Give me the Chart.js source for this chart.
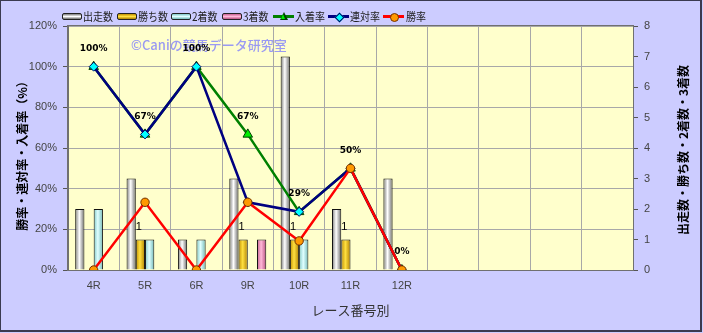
<!DOCTYPE html>
<html><head><meta charset="utf-8">
<script src="https://cdn.jsdelivr.net/npm/chart.js@4"></script>
<style>
html,body{margin:0;padding:0;background:#fff;}
#wrap{position:relative;width:703px;height:333px;background:#CCCCFF;overflow:hidden;}
#c{position:absolute;left:0;top:0;}
#frame{position:absolute;left:0;top:0;width:702px;height:332px;box-sizing:border-box;border:1px solid #3a3a50;border-right-width:2px;border-bottom-width:2px;pointer-events:none;}
.lg{position:absolute;top:10px;height:12px;font:10px "Noto Sans CJK JP",sans-serif;color:#222;line-height:12px;white-space:nowrap;transform:scale(1,1.15);transform-origin:0 50%;}
.box{position:absolute;top:13px;width:18px;height:5px;border:1px solid #222;border-radius:2px;}
.ln{position:absolute;top:15px;width:21px;height:3px;}
.mk{position:absolute;}
</style></head>
<body>
<div id="wrap">
<canvas id="c" width="703" height="333"></canvas>
<div id="legend"></div>
<div id="frame"></div>
</div>
<script>
const categories = ['4R','5R','6R','9R','10R','11R','12R','','','',''];
const starts   = [2,3,1,3,7,2,3];
const wins     = [0,1,0,1,1,1,0];
const seconds  = [2,1,1,0,1,0,0];
const thirds   = [0,0,0,1,0,0,0];
const placeRate  = [100,66.7,100,66.7,28.6,50,0];
const rentaiRate = [100,66.7,100,33.3,28.6,50,0];
const winRate    = [0,33.3,0,33.3,14.3,50,0];
const leftTicks  = [0,20,40,60,80,100,120];
const rightTicks = [0,1,2,3,4,5,6,7,8];
const legendNames = ['出走数','勝ち数','2着数','3着数','入着率','連対率','勝率'];

const CAT_PCT = 0.72, BAR_PCT = 1.0;
const barCols = [
  ['#7a7a7a','#ffffff','#6a6a6a'],
  ['#c08f00','#ffe040','#b08000'],
  ['#80c8c8','#e0ffff','#70b8b8'],
  ['#c86090','#ffb8d8','#b85080']
];
function barFill(k){
  return function(ctx){
    const chart = ctx.chart, xs = chart.scales && chart.scales.x;
    const c = barCols[k];
    if(!xs || !isFinite(xs.width) || ctx.dataIndex === undefined) return c[1];
    const center = xs.getPixelForValue(ctx.dataIndex);
    const catW = xs.width / categories.length;
    const grp = catW * CAT_PCT, bw = grp / 4;
    const left = center - grp/2 + bw*k;
    const g = chart.ctx.createLinearGradient(left,0,left+bw,0);
    g.addColorStop(0,c[0]); g.addColorStop(0.45,c[1]); g.addColorStop(1,c[2]);
    return g;
  };
}
function mkBar(label,data,k){
  return {type:'bar',label,data,yAxisID:'y1',backgroundColor:barFill(k),
    borderColor:'#111',borderWidth:(c)=>c.raw? 1:0,borderSkipped:'start',
    categoryPercentage:CAT_PCT,barPercentage:BAR_PCT,order:10+k};
}

const bgPlugin = {
  id:'bg',
  beforeDraw(chart){
    const {ctx,chartArea:a} = chart;
    ctx.save(); ctx.fillStyle='#FFFFCC';
    ctx.fillRect(a.left,a.top,a.right-a.left,a.bottom-a.top);
    ctx.restore();
  },
  beforeDatasetsDraw(chart){
    const ctx = chart.ctx;
    ctx.save();
    ctx.font = '500 13px "Noto Sans CJK JP",sans-serif';
    ctx.fillStyle = '#9a9af2';
    ctx.textBaseline='middle'; ctx.textAlign='left';
    ctx.fillText('©Caniの競馬データ研究室',131,45);
    ctx.restore();
  },
  afterDatasetsDraw(chart){
    const ctx = chart.ctx;
    ctx.save();
    const meta = chart.getDatasetMeta(4);
    ctx.font = 'bold 9px "DejaVu Sans",sans-serif';
    ctx.fillStyle='#000'; ctx.textAlign='center'; ctx.textBaseline='middle';
    meta.data.forEach((p,i)=>{
      const v = placeRate[i]; if(v===null||v===undefined) return;
      ctx.fillText(Math.round(v)+'%', p.x, p.y-18);
    });
    const bm = chart.getDatasetMeta(1);
    ctx.font = '11px "Liberation Sans",sans-serif';
    bm.data.forEach((b,i)=>{
      const v = wins[i]; if(!v) return;
      ctx.fillText(String(v), b.x-1.5, b.y-13);
    });
    ctx.restore();
  },
  afterDraw(chart){
    const {ctx,chartArea:a} = chart;
    ctx.save();
    ctx.strokeStyle='#707070'; ctx.lineWidth=1;
    ctx.strokeRect(a.left-0.5,a.top-0.5,a.right-a.left+1,a.bottom-a.top+1);
    ctx.fillStyle='#000';
    ctx.font='bold 12px "Noto Sans CJK JP",sans-serif';
    ctx.textAlign='center'; ctx.textBaseline='middle';
    ctx.save(); ctx.translate(22,153); ctx.rotate(-Math.PI/2);
    ctx.fillText('勝率・連対率・入着率（%）',0,0); ctx.restore();
    ctx.save(); ctx.translate(683,150); ctx.rotate(-Math.PI/2);
    ctx.fillText('出走数・勝ち数・2着数・3着数',0,0); ctx.restore();
    ctx.font='13px "Noto Sans CJK JP",sans-serif'; ctx.fillStyle='#333';
    ctx.fillText('レース番号別',(a.left+a.right)/2,310);
    ctx.restore();
  }
};

const tickFont = {family:'"Liberation Sans",sans-serif',size:11};
new Chart(document.getElementById('c'),{
  data:{
    labels:categories,
    datasets:[
      mkBar(legendNames[0],starts,0),
      mkBar(legendNames[1],wins,1),
      mkBar(legendNames[2],seconds,2),
      mkBar(legendNames[3],thirds,3),
      {type:'line',label:legendNames[4],data:placeRate,yAxisID:'y',borderColor:'#008000',borderWidth:2.5,
        pointStyle:'triangle',pointRadius:5.5,pointBackgroundColor:'#00ee00',pointBorderColor:'#004000',pointBorderWidth:1,order:3,tension:0},
      {type:'line',label:legendNames[5],data:rentaiRate,yAxisID:'y',borderColor:'#000080',borderWidth:2.5,
        pointStyle:'rectRot',pointRadius:4.5,pointBackgroundColor:'#00ffff',pointBorderColor:'#000060',pointBorderWidth:1,order:2,tension:0},
      {type:'line',label:legendNames[6],data:winRate,yAxisID:'y',borderColor:'#ff0000',borderWidth:2.5,
        pointStyle:'circle',pointRadius:4.2,pointBackgroundColor:'#ff9900',pointBorderColor:'#703000',pointBorderWidth:1,order:1,tension:0}
    ]
  },
  options:{
    responsive:false,animation:false,devicePixelRatio:1,
    layout:{padding:{top:26,left:0,right:0,bottom:0}},
    plugins:{legend:{display:false},tooltip:{enabled:false}},
    scales:{
      x:{offset:true,
        grid:{display:true,offset:true,color:'#a8a8a8',borderDash:[1,2],drawTicks:false,lineWidth:1},
        border:{display:false},
        ticks:{font:tickFont,color:'#444',padding:9,maxRotation:0,autoSkip:false},
        afterFit(s){s.height=63;}
      },
      y:{position:'left',min:0,max:120,
        afterBuildTicks(s){s.ticks=leftTicks.map(v=>({value:v}));},
        ticks:{font:tickFont,color:'#444',padding:6,callback:v=>v+'%'},
        grid:{color:'#a8a8a8',borderDash:[1,2],tickLength:5,tickColor:'#555',tickBorderDash:[],tickWidth:1},
        border:{display:true,color:'#707070'},
        afterFit(s){s.width=68;}
      },
      y1:{position:'right',min:0,max:8,
        afterBuildTicks(s){s.ticks=rightTicks.map(v=>({value:v}));},
        ticks:{font:tickFont,color:'#444',padding:6},
        grid:{drawOnChartArea:false,tickLength:5,tickColor:'#555'},
        border:{display:true,color:'#707070'},
        afterFit(s){s.width=70;}
      }
    }
  },
  plugins:[bgPlugin]
});

const lg = document.getElementById('legend');
const items = [
  {t:'box',x:62,tx:83,c:0},{t:'box',x:117,tx:138,c:1},{t:'box',x:171,tx:192,c:2},{t:'box',x:222,tx:243,c:3},
  {t:'ln',x:273,tx:295,col:'#008000',m:'tri'},{t:'ln',x:328,tx:350,col:'#000080',m:'dia'},{t:'ln',x:383,tx:406,col:'#ff0000',m:'cir'}
];
items.forEach((it,i)=>{
  if(it.t==='box'){
    const b=document.createElement('div'); b.className='box'; b.style.left=it.x+'px';
    const c=barCols[it.c];
    b.style.background='linear-gradient(to bottom,'+c[0]+','+c[1]+' 50%,'+c[2]+')';
    lg.appendChild(b);
  } else {
    const l=document.createElement('div'); l.className='ln'; l.style.left=it.x+'px'; l.style.background=it.col;
    lg.appendChild(l);
    const m=document.createElement('div'); m.className='mk';
    const cx=it.x+10.5, cy=16.5;
    if(it.m==='tri'){
      m.style.cssText='position:absolute;left:'+(cx-4)+'px;top:'+(cy-5)+'px;width:0;height:0;border-left:4px solid transparent;border-right:4px solid transparent;border-bottom:8px solid #004000;';
      const m2=document.createElement('div');
      m2.style.cssText='position:absolute;left:'+(cx-2.5)+'px;top:'+(cy-2.5)+'px;width:0;height:0;border-left:2.5px solid transparent;border-right:2.5px solid transparent;border-bottom:5px solid #00ee00;';
      lg.appendChild(m); lg.appendChild(m2);
    } else if(it.m==='dia'){
      m.style.cssText='position:absolute;left:'+(cx-3)+'px;top:'+(cy-3)+'px;width:5px;height:5px;background:#00ffff;border:0.5px solid #000060;transform:rotate(45deg);';
      lg.appendChild(m);
    } else {
      m.style.cssText='position:absolute;left:'+(cx-4)+'px;top:'+(cy-4)+'px;width:7px;height:7px;border-radius:50%;background:#ff9900;border:1px solid #703000;';
      lg.appendChild(m);
    }
  }
  const t=document.createElement('div'); t.className='lg'; t.style.left=it.tx+'px'; t.textContent=legendNames[i];
  lg.appendChild(t);
});
</script>
</body></html>
